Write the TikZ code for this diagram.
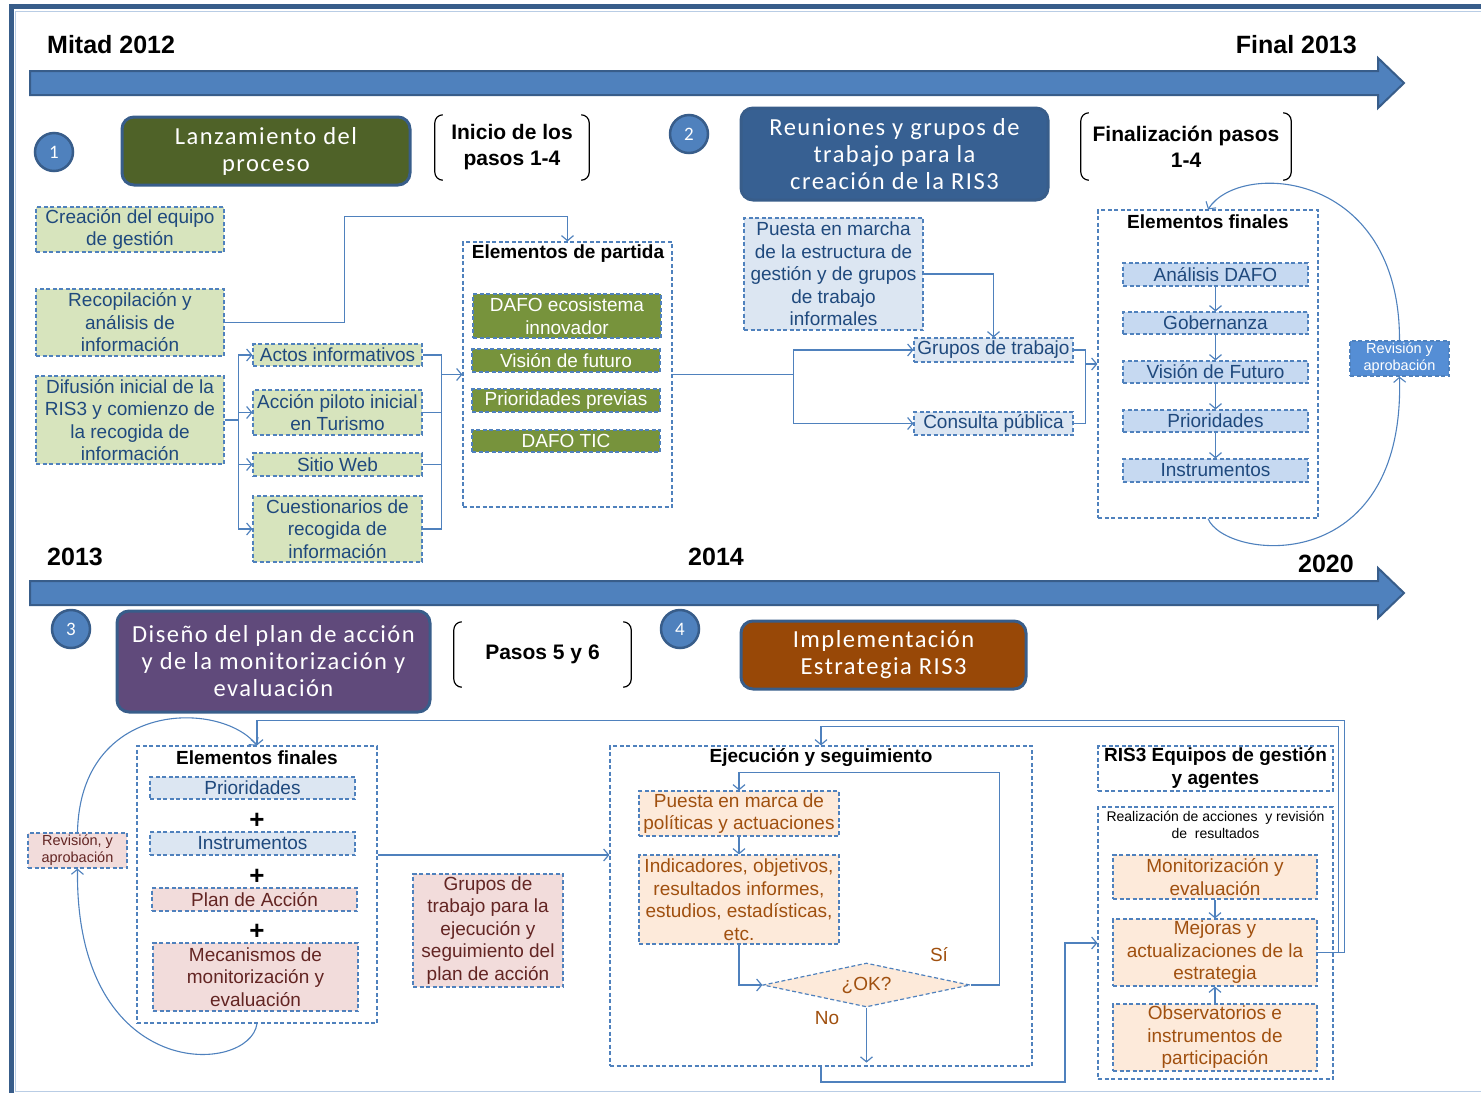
\documentclass[tikz,border=0pt]{standalone}
\usepackage{fontspec}
\setmainfont{Liberation Sans}
\newfontfamily\ttlfont[LetterSpace=6]{Carlito}
\newfontfamily\numfont{Carlito}
\usepackage{xcolor}
\usepackage{tikz}
\usetikzlibrary{arrows.meta,positioning,shapes.geometric}
\definecolor{tlblue}{HTML}{4F81BD}
\definecolor{tldark}{HTML}{385D8A}
\definecolor{lnblue}{HTML}{4F81BD}
\definecolor{txblue}{HTML}{1F497D}
\definecolor{lgreen}{HTML}{D7E4BD}
\definecolor{dgreen}{HTML}{77933C}
\definecolor{olivebox}{HTML}{4F6228}
\definecolor{lblue}{HTML}{DCE6F2}
\definecolor{mblue}{HTML}{C6D9F1}
\definecolor{revblue}{HTML}{558ED5}
\definecolor{navybox}{HTML}{376092}
\definecolor{plumbox}{HTML}{604A7B}
\definecolor{rustbox}{HTML}{984807}
\definecolor{rosefill}{HTML}{F2DCDB}
\definecolor{rosetx}{HTML}{632523}
\definecolor{peachfill}{HTML}{FDEADA}
\definecolor{peachtx}{HTML}{A0500F}
\definecolor{framelt}{HTML}{B9CDE5}
\newcommand{\brackets}[1]{%
  \draw[brkline] ([xshift=8pt]#1.north west) -- (#1.north west) -- (#1.south west) -- ([xshift=8pt]#1.south west);
  \draw[brkline] ([xshift=-8pt]#1.north east) -- (#1.north east) -- (#1.south east) -- ([xshift=-8pt]#1.south east);}

\begin{document}
\begin{tikzpicture}[x=1pt,y=-1pt,
  box/.style={draw=lnblue, dash pattern=on 4pt off 2.5pt, line width=1.2pt, inner sep=0pt, align=center, font=\fontsize{19}{22.5}\selectfont},
  gbox/.style={box, fill=lgreen, text=txblue},
  dbox/.style={box, fill=dgreen, text=white},
  bbox/.style={box, fill=lblue, text=txblue},
  mbox/.style={box, fill=mblue, text=txblue},
  pbox/.style={box, fill=rosefill, text=rosetx},
  obox/.style={box, fill=peachfill, text=peachtx},
  hdr/.style={inner sep=0pt, align=center, font=\bfseries\fontsize{19}{23}\selectfont},
  ttl/.style={draw=tldark, line width=3pt, rounded corners=12pt, text=white, align=center, inner sep=0pt, font=\ttlfont\fontsize{24.5}{27}\selectfont},
  num/.style={circle, fill=tlblue, draw=tldark, line width=2.5pt, minimum size=38, inner sep=0pt, text=white, font=\numfont\fontsize{19}{19}\selectfont},
  brk/.style={inner sep=0pt, align=center, font=\bfseries\fontsize{21}{26}\selectfont},
  brkline/.style={line width=1.2pt, rounded corners=8pt},
  yr/.style={inner sep=0pt, font=\bfseries\fontsize{25}{25}\selectfont},
  small/.style={font=\fontsize{14.5}{17}\selectfont},
  plus/.style={inner sep=0pt, font=\bfseries\fontsize{26}{26}\selectfont},
  line/.style={draw=lnblue, line width=1.2pt},
  conn/.style={line, -{Straight Barb[length=5pt,width=12pt]}},
  loop/.style={draw=lnblue, line width=1.1pt, -{Straight Barb[length=5pt,width=12pt]}},
  tl/.style={fill=tlblue, draw=tldark, line width=2pt}]
\useasboundingbox (0,0) rectangle (1481,1093);
% frame
\fill[tldark] (9,4) rectangle (1481,8.5);
\fill[tldark] (9,4) rectangle (14,1093);
\draw[framelt, line width=1pt] (1481,11) -- (15.5,11) -- (15.5,1091) -- (1481,1091);
% timelines
\filldraw[tl] (30,71) -- (1378,71) -- (1378,58) -- (1404,83) -- (1378,108) -- (1378,95) -- (30,95) -- cycle;
\filldraw[tl] (30,581) -- (1378,581) -- (1378,568) -- (1404,593) -- (1378,618) -- (1378,605) -- (30,605) -- cycle;
\node[yr, anchor=base west] (y1) at (47,53) {Mitad 2012};
\node[yr, anchor=base east] (y2) at (1357,53) {Final 2013};
\node[yr, anchor=base west] (y3) at (47,565) {2013};
\node[yr, anchor=base west] (y4) at (688,565) {2014};
\node[yr, anchor=base east] (y5) at (1354,572) {2020};

% phase 1
\node[num] (n1) at (54,152) {1};
\node[ttl, fill=olivebox, minimum width=288, minimum height=68] (lanz) at (266,151) {Lanzamiento del\\proceso};
\node[brk, minimum width=154, minimum height=65] (ini) at (512,147.5) {Inicio de los\\pasos 1-4};
\brackets{ini}
\node[gbox, minimum width=188, minimum height=45] (ceq) at (130,229.5) {Creación del equipo\\de gestión};
\node[gbox, minimum width=188, minimum height=67] (rec) at (130,322.5) {Recopilación y\\análisis de\\información};
\node[gbox, minimum width=188, minimum height=88] (dif) at (130,420) {Difusión inicial de la\\RIS3 y comienzo de\\la recogida de\\información};
\node[gbox, minimum width=169, minimum height=22] (act) at (337.5,355) {Actos informativos};
\node[gbox, minimum width=169, minimum height=45] (pil) at (337.5,412.5) {Acción piloto inicial\\en Turismo};
\node[gbox, minimum width=169, minimum height=23] (web) at (337.5,464.5) {Sitio Web};
\node[gbox, minimum width=169, minimum height=66] (cue) at (337.5,529) {Cuestionarios de\\recogida de\\información};
\node[box, minimum width=209, minimum height=265] (epar) at (567.5,374.5) {};
\node[hdr] (eptit) at (568,254) {Elementos de partida};
\node[dbox, minimum width=188, minimum height=44] (daf) at (567,316) {DAFO ecosistema\\innovador};
\node[dbox, minimum width=188, minimum height=23] (vis) at (566,360.5) {Visión de futuro};
\node[dbox, minimum width=188, minimum height=23] (pre) at (566,400.5) {Prioridades previas};
\node[dbox, minimum width=188, minimum height=22] (tic) at (566,441) {DAFO TIC};

\coordinate (dj) at ([xshift=14pt]dif.east);
\foreach \n in {act,pil,web,cue} \draw[conn] (dif.east) -- (dj) |- (\n.west);
\coordinate (mj) at ([xshift=-21pt]epar.west);
\foreach \n in {act,pil,web,cue} \draw[line] (\n.east) -| (mj);
\draw[conn] (mj) -- (epar.west);
\draw[conn] (rec.east) -- ++(120,0) |- ([yshift=25pt]epar.north) -- (epar.north);

% phase 2
\node[num] (n2) at (689,134) {2};
\node[ttl, fill=navybox, minimum width=307, minimum height=92] (reun) at (894.5,154) {Reuniones y grupos de\\trabajo para la\\creación de la RIS3};
\node[brk, minimum width=210, minimum height=67] (fin) at (1186,146.5) {Finalización pasos\\1-4};
\brackets{fin}
\node[bbox, minimum width=179, minimum height=112] (pmar) at (833.5,274) {Puesta en marcha\\de la estructura de\\gestión y de grupos\\de trabajo\\informales};
\node[bbox, minimum width=159, minimum height=24] (gru) at (993.5,350) {Grupos de trabajo};
\node[bbox, minimum width=159, minimum height=23] (con) at (993.5,423.5) {Consulta pública};
\node[box, minimum width=220, minimum height=308] (efa) at (1208,364) {};
\node[hdr] (efatit) at (1208,222) {Elementos finales};
\node[mbox, minimum width=185, minimum height=23] (ana) at (1215.5,274.5) {Análisis DAFO};
\node[mbox, minimum width=185, minimum height=22] (gob) at (1215.5,323) {Gobernanza};
\node[mbox, minimum width=185, minimum height=22] (vfu) at (1215.5,372) {Visión de Futuro};
\node[mbox, minimum width=185, minimum height=22] (pra) at (1215.5,421) {Prioridades};
\node[mbox, minimum width=185, minimum height=23] (ina) at (1215.5,470.5) {Instrumentos};
\node[box, small, fill=revblue, text=white, minimum width=99, minimum height=35] (reva) at (1399.5,358.5) {Revisión y\\aprobación};

\coordinate (ej) at ([xshift=121pt]epar.east);
\draw[line] (epar.east) -- (ej);
\foreach \n in {gru,con} \draw[conn] (ej) |- (\n.west);
\draw[conn] (pmar.east) -| (gru.north);
\coordinate (fj) at ([xshift=-12pt]efa.west);
\foreach \n in {gru,con} \draw[line] (\n.east) -| (fj);
\draw[conn] (fj) -- (efa.west);
\draw[conn] (ana) -- (gob);
\draw[conn] (gob) -- (vfu);
\draw[conn] (vfu) -- (pra);
\draw[conn] (pra) -- (ina);
\draw[loop] (efa.south) .. controls (1225,560) and (1405,580) .. (reva.south);
\draw[loop] (reva.north) .. controls (1400,170) and (1240,160) .. (efa.north);

% phase 3
\node[num] (n3) at (71,629) {3};
\node[ttl, fill=plumbox, minimum width=313, minimum height=101] (dis) at (273.5,661.5) {Diseño del plan de acción\\y de la monitorización y\\evaluación};
\node[brk, minimum width=177, minimum height=65] (pas) at (542.5,654.5) {Pasos 5 y 6};
\brackets{pas}
\node[box, minimum width=240, minimum height=277] (efb) at (257,884.5) {};
\node[hdr] (efbtit) at (257,758) {Elementos finales};
\node[bbox, minimum width=205, minimum height=22] (prb) at (252.5,788) {Prioridades};
\node[plus] (pl1) at (257,821) {+};
\node[bbox, minimum width=205, minimum height=23] (inb) at (252.5,843.5) {Instrumentos};
\node[plus] (pl2) at (257,877) {+};
\node[pbox, minimum width=205, minimum height=23] (pla) at (254.5,899.5) {Plan de Acción};
\node[plus] (pl3) at (257,932) {+};
\node[pbox, minimum width=205, minimum height=68] (mec) at (255.5,977) {Mecanismos de\\monitorización y\\evaluación};
\node[pbox, small, minimum width=99, minimum height=35] (revb) at (77.5,850.5) {Revisión, y\\aprobación};
\node[pbox, minimum width=150, minimum height=113] (gtr) at (488,930.5) {Grupos de\\trabajo para la\\ejecución y\\seguimiento del\\plan de acción};
\draw[loop] (efb.south) .. controls (250,1075) and (75,1085) .. (revb.south);
\draw[loop] (revb.north) .. controls (80,700) and (220,700) .. (efb.north);

% phase 4
\node[num] (n4) at (680,629) {4};
\node[ttl, fill=rustbox, minimum width=285, minimum height=68] (imp) at (883.5,655) {Implementación\\Estrategia RIS3};
\node[box, minimum width=422, minimum height=320] (ejec) at (821,906) {};
\node[hdr] (ejtit) at (821,758) {Ejecución y seguimiento};
\node[obox, minimum width=200, minimum height=45] (pue) at (739,813.5) {Puesta en marca de\\políticas y actuaciones};
\node[obox, minimum width=200, minimum height=89] (ind) at (739,899.5) {Indicadores, objetivos,\\resultados informes,\\estudios, estadísticas,\\etc.};
\node[obox, diamond, aspect=4.7, minimum width=207, minimum height=44] (ok) at (866.5,985) {¿OK?};
\node[inner sep=0pt, text=peachtx, font=\fontsize{19}{19}\selectfont] (si) at (939,955) {Sí};
\node[inner sep=0pt, text=peachtx, font=\fontsize{19}{19}\selectfont] (no) at (827,1018) {No};
\node[hdr, draw=lnblue, dash pattern=on 4pt off 2.5pt, line width=1.2pt, minimum width=235, minimum height=45] (ris) at (1215.5,768.5) {RIS3 Equipos de gestión\\y agentes};
\node[box, minimum width=235, minimum height=272] (real) at (1215.5,943) {};
\node[inner sep=0pt, align=center, font=\fontsize{14}{17}\selectfont] (realtit) at (1215.5,825) {Realización de acciones\ \ y revisión\\de\ \ resultados};
\node[obox, minimum width=204, minimum height=44] (mon) at (1215,877) {Monitorización y\\evaluación};
\node[obox, minimum width=204, minimum height=67] (mej) at (1215,952.5) {Mejoras y\\actualizaciones de la\\estrategia};
\node[obox, minimum width=204, minimum height=67] (obs) at (1215,1037.5) {Observatorios e\\instrumentos de\\participación};

\draw[conn] ([yshift=29.5pt]efb.east) coordinate (lk) -- (lk -| ejec.west);
\draw[conn] (pue) -- (ind);
\draw[conn] (ind.south) |- (ok.west);
\draw[conn] (ok.south) -- ([yshift=4pt]ejec.south -| ok.south);
\draw[conn] (ok.east) -- ++(29,0) |- ([yshift=18pt]pue.north) -- (pue.north);
\draw[conn] (mon) -- (mej);
\draw[conn] (obs) -- (mej);
\coordinate (bj) at (1065,1082);
\draw[conn] (ejec.south) |- (bj) |- (real.west);
\draw[conn] (mej.east) -- ++(27,0) |- ([yshift=25pt]efb.north) -- (efb.north);
\draw[conn] (mej.east) -- ++(21,0) |- ([yshift=19pt]ejec.north) -- (ejec.north);
\end{tikzpicture}
\end{document}
